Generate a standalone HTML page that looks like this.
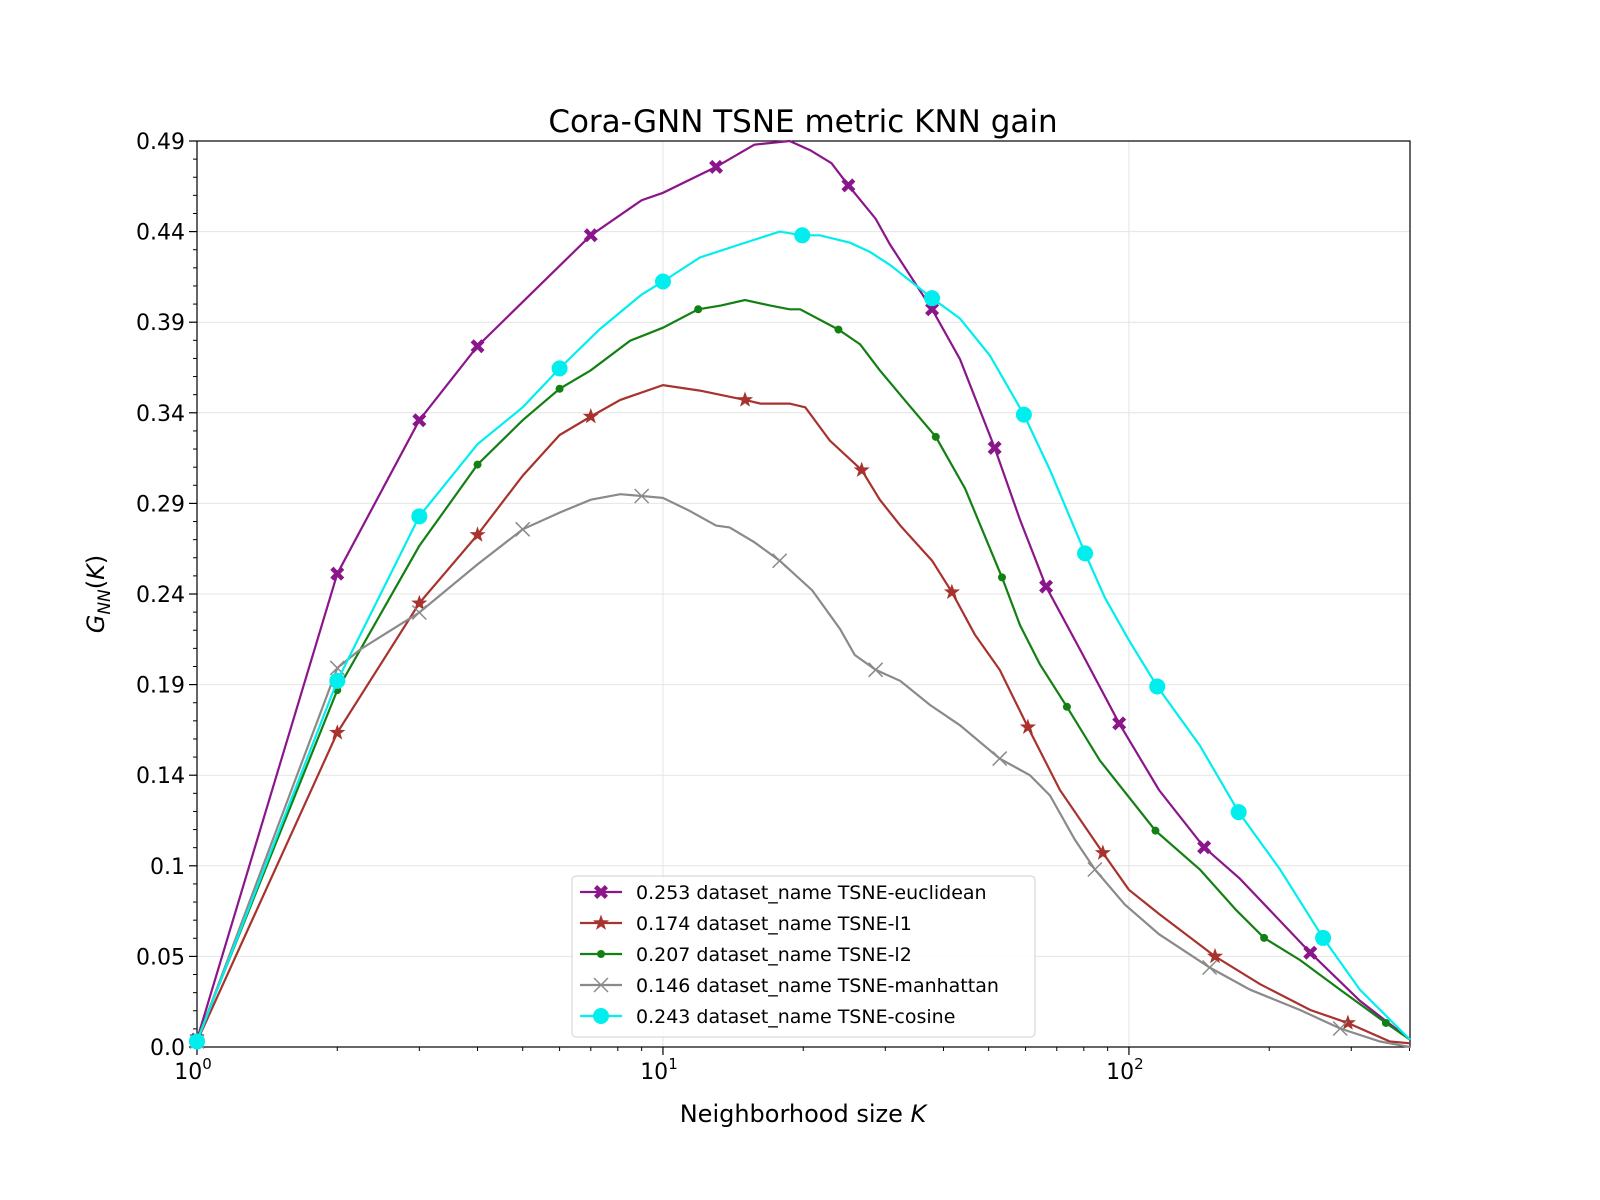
<!DOCTYPE html>
<html><head><meta charset="utf-8"><style>
body{margin:0;background:#fff;}
svg{display:block;font-family:"DejaVu Sans","Liberation Sans",sans-serif;}
</style></head><body>
<svg id="chart" width="1600" height="1200" xmlns="http://www.w3.org/2000/svg">
<rect width="1600" height="1200" fill="#fff"/>
<text x="803" y="132" font-size="31" text-anchor="middle">Cora-GNN TSNE metric KNN gain</text>
<g id="grid"></g><g id="axes"></g><g id="series"></g><g id="legend"></g>
<text x="803" y="1122" font-size="24" text-anchor="middle">Neighborhood size <tspan font-style="italic">K</tspan></text>
<text transform="translate(104,594) rotate(-90)" font-size="24" text-anchor="middle"><tspan font-style="italic">G</tspan><tspan font-style="italic" font-size="17" dy="6">NN</tspan><tspan dy="-6">(</tspan><tspan font-style="italic">K</tspan>)</text>
</svg>
<script>
const yTicks=[0,0.049,0.098,0.147,0.196,0.245,0.294,0.343,0.392,0.441,0.49];
const yTickLabels=["0.0","0.05","0.1","0.14","0.19","0.24","0.29","0.34","0.39","0.44","0.49"];
const xTicks=[1,10,100];
const xTickLabels=["0","1","2"];
const eucK=[1,2,3,4,7,9,10,13,15.7,18.7,20.7,23,25,28.6,30.7,37.8,43.4,51.5,58.4,66.4,78.5,95.3,116,145,173,245,313,401];
const eucV=[0.004,0.256,0.339,0.379,0.439,0.458,0.462,0.476,0.488,0.49,0.485,0.478,0.466,0.448,0.434,0.399,0.372,0.324,0.285,0.249,0.215,0.175,0.139,0.108,0.091,0.051,0.025,0.004];
const eucM=[1,2,3,4,7,13,25,37.8,51.5,66.4,95.3,145,245];
const l1K=[1,2,3,4,5,6,7,8.1,10,12,15,16.2,18.7,20.2,22.8,26.7,29.2,32.3,37.8,41.7,46.7,52.8,60.7,71.1,87.9,100,116,153,191,245,295,363,401];
const l1V=[0.003,0.170,0.240,0.277,0.309,0.331,0.341,0.350,0.358,0.355,0.350,0.348,0.348,0.346,0.328,0.312,0.296,0.282,0.263,0.246,0.223,0.204,0.173,0.139,0.105,0.085,0.072,0.049,0.034,0.020,0.013,0.003,0.002];
const l1M=[1,2,3,4,7,15,26.7,41.7,60.7,87.9,153,295];
const l2K=[1,2,3,4,5,6,7,8.5,10,11.9,13.3,15,17,18.7,19.7,23.8,26.5,29.2,33,38.5,44.5,53.4,58.4,64.4,73.6,86.6,114,142,170,195,233,284,356,401];
const l2V=[0.004,0.193,0.271,0.315,0.339,0.356,0.366,0.382,0.389,0.399,0.401,0.404,0.401,0.399,0.399,0.388,0.380,0.366,0.350,0.330,0.302,0.254,0.228,0.207,0.184,0.155,0.117,0.096,0.074,0.059,0.047,0.031,0.013,0.004];
const l2M=[1,2,4,6,11.9,23.8,38.5,53.4,73.6,114,195,356];
const manK=[1,2,2.24,3,4,5,6,7,8.1,9,10,11.4,13,13.9,15.7,17.8,20.9,24,25.8,28.6,32.3,37.4,43.4,52.8,61.3,67.7,76.6,84.5,98,116,149,182,233,284,346,401];
const manV=[0.003,0.205,0.215,0.235,0.261,0.280,0.289,0.296,0.299,0.298,0.297,0.290,0.282,0.281,0.273,0.263,0.247,0.226,0.212,0.204,0.198,0.185,0.174,0.156,0.147,0.136,0.112,0.096,0.077,0.061,0.043,0.031,0.020,0.010,0.003,0.0];
const manM=[1,2,3,5,9,17.8,28.6,52.8,84.5,149,284];
const cosK=[1,2,3,4,5,6,7.3,9,10,12,14.6,17.8,19.9,21.7,25.2,27.8,30.7,37.8,43.4,50.3,59.5,67.7,80.5,88.8,100,115,142,172,211,261,313,401];
const cosV=[0.003,0.198,0.287,0.326,0.346,0.367,0.388,0.407,0.414,0.427,0.434,0.441,0.439,0.439,0.435,0.430,0.423,0.405,0.394,0.374,0.342,0.312,0.267,0.243,0.220,0.195,0.163,0.127,0.096,0.059,0.031,0.004];
const cosM=[1,2,3,6,10,19.9,37.8,59.5,80.5,115,172,261];
const seriesNames=["0.253 dataset_name TSNE-euclidean","0.174 dataset_name TSNE-l1","0.207 dataset_name TSNE-l2","0.146 dataset_name TSNE-manhattan","0.243 dataset_name TSNE-cosine"];

const NS="http://www.w3.org/2000/svg";
const X0=197,X1=1410,Y0=1047,Y1=141,XMAX=401,YMAX=0.49;
function sx(k){return X0+(X1-X0)*Math.log10(k)/Math.log10(XMAX);}
function sy(v){return Y0-(Y0-Y1)*v/YMAX;}
function mk(tag,attrs,parent){const e=document.createElementNS(NS,tag);for(const a in attrs)e.setAttribute(a,attrs[a]);parent.appendChild(e);return e;}
function interp(K,V,k){for(let i=0;i<K.length-1;i++){if(k>=K[i]&&k<=K[i+1]){const t=(Math.log(k)-Math.log(K[i]))/(Math.log(K[i+1])-Math.log(K[i]));return V[i]+t*(V[i+1]-V[i]);}}return V[V.length-1];}
const grid=document.getElementById('grid'),axes=document.getElementById('axes');
yTicks.forEach((v,i)=>{
  const g=mk('line',{x1:X0,x2:X1,y1:sy(v),y2:sy(v),stroke:'#e4e4e4','stroke-width':1},grid);
  
  mk('line',{x1:X0-8,x2:X0,y1:sy(v),y2:sy(v),stroke:'#000','stroke-width':1.2},axes);
  const t=mk('text',{x:X0-12,y:sy(v)+8,'font-size':22,'text-anchor':'end'},axes);t.textContent=yTickLabels[i];
  
  if(i<yTicks.length-1)for(let j=1;j<5;j++){const mv=v+j*0.0098;mk('line',{x1:X0-4,x2:X0,y1:sy(mv),y2:sy(mv),stroke:'#000','stroke-width':1},axes);}
});
xTicks.forEach((k,i)=>{
  const g=mk('line',{x1:sx(k),x2:sx(k),y1:Y0,y2:Y1,stroke:'#e4e4e4','stroke-width':1},grid);
  
  mk('line',{x1:sx(k),x2:sx(k),y1:Y0,y2:Y0+8,stroke:'#000','stroke-width':1.2},axes);
  const t=mk('text',{x:sx(k)-4,y:Y0+32,'font-size':22,'text-anchor':'middle'},axes);
  
  t.textContent='10';const s=mk('tspan',{'font-size':15,dy:-10},t);s.textContent=xTickLabels[i];
});
for(let d=1;d<=100;d*=10)for(let m=2;m<=9;m++){const k=d*m;if(k<=XMAX)mk('line',{x1:sx(k),x2:sx(k),y1:Y0,y2:Y0+4,stroke:'#000','stroke-width':1},axes);}
const fr=mk('rect',{x:X0,y:Y1,width:X1-X0,height:Y0-Y1,fill:'none',stroke:'#000','stroke-width':1.2},axes);


const colors=['#8b158b','#a8322d','#138013','#8a8a8a','#00eeee'];
const markers=['X','star','dot','x','circle'];
function marker(type,x,y,c,p){
  if(type==='X'){const s=7,w=3.2;mk('path',{d:`M${x-s},${y-s+w}L${x-s+w},${y-s}L${x},${y-w}L${x+s-w},${y-s}L${x+s},${y-s+w}L${x+w},${y}L${x+s},${y+s-w}L${x+s-w},${y+s}L${x},${y+w}L${x-s+w},${y+s}L${x-s},${y+s-w}L${x-w},${y}Z`,fill:c},p);}
  else if(type==='star'){let d='';for(let i=0;i<10;i++){const r=i%2?3.4:8.5,a=-Math.PI/2+i*Math.PI/5;d+=(i?'L':'M')+(x+r*Math.cos(a)).toFixed(1)+','+(y+r*Math.sin(a)).toFixed(1);}mk('path',{d:d+'Z',fill:c},p);}
  else if(type==='dot'){mk('circle',{cx:x,cy:y,r:4,fill:c},p);}
  else if(type==='x'){const s=7;mk('path',{d:`M${x-s},${y-s}L${x+s},${y+s}M${x-s},${y+s}L${x+s},${y-s}`,stroke:c,'stroke-width':1.5},p);}
  else mk('circle',{cx:x,cy:y,r:8,fill:c},p);
}
const data=[[eucK,eucV,eucM],[l1K,l1V,l1M],[l2K,l2V,l2M],[manK,manV,manM],[cosK,cosV,cosM]];
const sg=document.getElementById('series');
const names=['euclidean','l1','l2','manhattan','cosine'];
data.forEach(([K,V,M],i)=>{
  const g=mk('g',{},sg);
  
  
  mk('polyline',{points:K.map((k,j)=>sx(k).toFixed(1)+','+sy(V[j]).toFixed(1)).join(' '),fill:'none',stroke:colors[i],'stroke-width':2.2},g);
  M.forEach(k=>marker(markers[i],sx(k),sy(interp(K,V,k)),colors[i],g));
});
const lg=document.getElementById('legend');
const lb=mk('rect',{x:572,y:876,width:463,height:161,rx:4,fill:'#fff','fill-opacity':0.85,stroke:'#d0d0d0'},lg);

seriesNames.forEach((n,i)=>{
  const y=892+i*31;
  const g=mk('g',{},lg);
  
  
  mk('line',{x1:580,x2:622,y1:y,y2:y,stroke:colors[i],'stroke-width':2.2},g);
  marker(markers[i],601,y,colors[i],g);
  const t=mk('text',{x:636,y:y+7,'font-size':19},g);t.textContent=n;
});
</script>
</body></html>
